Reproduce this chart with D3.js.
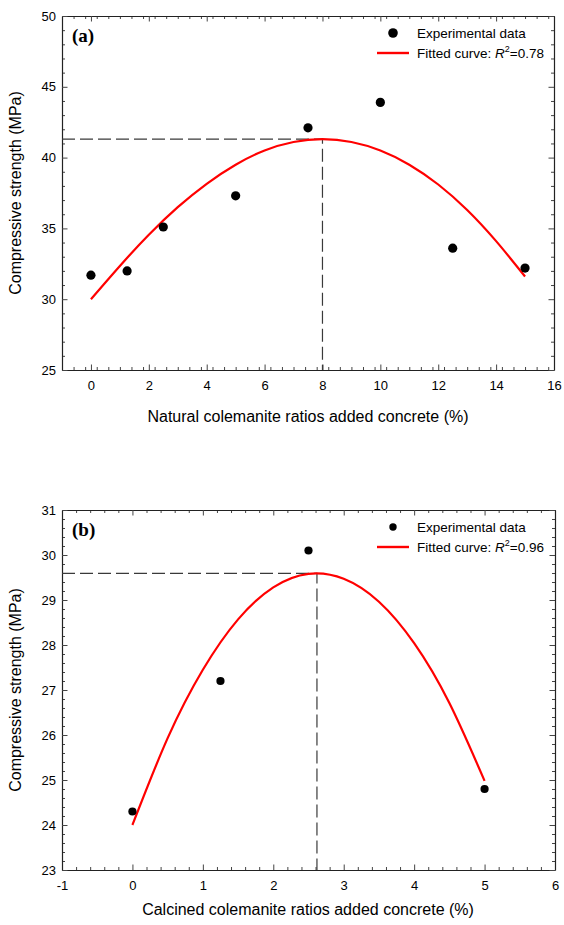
<!DOCTYPE html>
<html>
<head>
<meta charset="utf-8">
<script src="https://cdn.jsdelivr.net/npm/d3@7"></script>
<style>
  body { margin: 0; background: #fff; }
  svg { display: block; }
</style>
</head>
<body>
<svg id="chart" width="564" height="925"></svg>
<script>
// panel (a): natural colemanite
const ratiosA = [0, 1.25, 2.5, 5, 7.5, 10, 12.5, 15];
const strengthA = [31.7, 32.0, 35.1, 37.3, 42.1, 43.9, 33.6, 32.2];
const fitXA = [0, 1, 2, 3, 4, 5, 6, 7, 8, 9, 10, 11, 12, 13, 14, 15];
const fitYA = [30.0, 32.35, 34.55, 36.5, 38.15, 39.5, 40.5, 41.1, 41.3, 41.1, 40.5, 39.5, 38.1, 36.3, 34.1, 31.6];
const optA = [8, 41.3];
const xTicksA = [0, 2, 4, 6, 8, 10, 12, 14, 16];
const yTicksA = [25, 30, 35, 40, 45, 50];

// panel (b): calcined colemanite
const ratiosB = [0, 1.25, 2.5, 5];
const strengthB = [24.3, 27.2, 30.1, 24.8];
const fitXB = [0, 0.5, 1, 1.5, 2, 2.5, 3, 3.5, 4, 4.5, 5];
const fitYB = [24.0, 25.93, 27.45, 28.57, 29.28, 29.58, 29.47, 28.96, 28.04, 26.71, 24.98];
const optB = [2.62, 29.59];
const xTicksB = [-1, 0, 1, 2, 3, 4, 5, 6];
const yTicksB = [23, 24, 25, 26, 27, 28, 29, 30, 31];

const legendLabels = ["Experimental data", "Fitted curve: "];
const yTitle = "Compressive strength (MPa)";

const sans = "Arial, 'Liberation Sans', sans-serif";
const svg = d3.select("#chart");

function drawPanel(p) {
  const g = svg.append("g").style("font-family", sans);
  const x = d3.scaleLinear().domain(p.xDomain).range([p.left, p.right]);
  const y = d3.scaleLinear().domain(p.yDomain).range([p.bottom, p.top]);

  const notMajor = ticks => v => !ticks.some(t => Math.abs(t - v) < 1e-6);
  const minorX = d3.range(p.xDomain[0], p.xDomain[1] + 1e-9, p.xMinor).filter(notMajor(p.xTicks));
  const minorY = d3.range(p.yDomain[0], p.yDomain[1] + 1e-9, p.yMinor).filter(notMajor(p.yTicks));

  const axes = [
    [d3.axisBottom(x), `translate(0,${p.bottom})`, "x", true],
    [d3.axisTop(x), `translate(0,${p.top})`, "x", false],
    [d3.axisLeft(y), `translate(${p.left},0)`, "y", true],
    [d3.axisRight(y), `translate(${p.right},0)`, "y", false]
  ];
  axes.forEach(([ax, tr, dim, labelled]) => {
    const majors = dim === "x" ? p.xTicks : p.yTicks;
    const minors = dim === "x" ? minorX : minorY;
    // minor ticks, pointing inward
    g.append("g").attr("transform", tr)
      .call(ax.tickValues(minors).tickSize(-3).tickSizeOuter(0).tickFormat(""))
      .call(s => s.select(".domain").remove())
      .selectAll("line").attr("stroke", "#444");
    // major ticks + labels
    const sel = g.append("g").attr("transform", tr)
      .call(ax.tickValues(majors).tickSize(-5.5).tickSizeOuter(0)
        .tickPadding(dim === "x" ? 11 : 6)
        .tickFormat(labelled ? (d => String(d)) : ""));
    sel.select(".domain").attr("stroke", "#222").attr("stroke-width", 1.2);
    sel.selectAll(".tick line").attr("stroke", "#444");
    sel.selectAll("text").attr("font-size", 13).attr("fill", "#000").style("font-family", sans);
  });

  // dashed guide lines to the optimum
  const guide = d3.path();
  guide.moveTo(x(p.xDomain[0]), y(p.opt[1]));
  guide.lineTo(x(p.opt[0]), y(p.opt[1]));
  guide.lineTo(x(p.opt[0]), y(p.yDomain[0]));
  g.append("path").attr("d", guide.toString())
    .attr("fill", "none").attr("stroke", "#3a3a3a").attr("stroke-width", 1.2)
    .attr("stroke-dasharray", "13,5");

  // fitted curve
  const line = d3.line().x(d => x(d[0])).y(d => y(d[1])).curve(d3.curveNatural);
  g.append("path").datum(d3.zip(p.fitX, p.fitY))
    .attr("d", line).attr("fill", "none").attr("stroke", "#ff0000").attr("stroke-width", 2.2);

  // experimental points
  g.selectAll(".pt").data(d3.zip(p.xs, p.ys)).enter().append("circle")
    .attr("class", "pt")
    .attr("cx", d => x(d[0])).attr("cy", d => y(d[1])).attr("r", p.r).attr("fill", "#000");

  // panel letter
  g.append("text").attr("x", p.left + 10).attr("y", p.top + 26)
    .style("font-family", "'Liberation Serif', 'Times New Roman', serif")
    .attr("font-weight", "bold").attr("font-size", 19).text(p.letter);

  // legend
  g.append("circle").attr("cx", 393).attr("cy", p.top + 17).attr("r", p.legendR).attr("fill", "#000");
  g.append("text").attr("x", 417).attr("y", p.top + 22).attr("font-size", 13.5).text(legendLabels[0]);
  g.append("line").attr("x1", 377).attr("x2", 409).attr("y1", p.top + 37).attr("y2", p.top + 37)
    .attr("stroke", "#ff0000").attr("stroke-width", 2.4);
  const t = g.append("text").attr("x", 417).attr("y", p.top + 42).attr("font-size", 13.5);
  t.append("tspan").text(legendLabels[1]);
  t.append("tspan").attr("font-style", "italic").text("R");
  t.append("tspan").attr("font-size", 9).attr("dy", -6).text("2");
  t.append("tspan").attr("dy", 6).text("=" + p.r2);

  // axis titles
  g.append("text").attr("x", 308).attr("y", p.xTitleY).attr("text-anchor", "middle")
    .attr("font-size", 16).text(p.xTitle);
  g.append("text").attr("transform", `translate(21,${(p.top + p.bottom) / 2}) rotate(-90)`)
    .attr("text-anchor", "middle").attr("font-size", 16).text(yTitle);
}

drawPanel({
  left: 62, right: 554, top: 16, bottom: 370,
  xDomain: [-1, 16], yDomain: [25, 50], xTicks: xTicksA, yTicks: yTicksA,
  xMinor: 0.4, yMinor: 1,
  xs: ratiosA, ys: strengthA, fitX: fitXA, fitY: fitYA, opt: optA,
  r: 4.6, legendR: 4.8, letter: "(a)", r2: "0.78",
  xTitle: "Natural colemanite ratios added concrete (%)", xTitleY: 422
});

drawPanel({
  left: 62, right: 555, top: 510, bottom: 870,
  xDomain: [-1, 6], yDomain: [23, 31], xTicks: xTicksB, yTicks: yTicksB,
  xMinor: 0.2, yMinor: 0.2,
  xs: ratiosB, ys: strengthB, fitX: fitXB, fitY: fitYB, opt: optB,
  r: 4.1, legendR: 3.7, letter: "(b)", r2: "0.96",
  xTitle: "Calcined colemanite ratios added concrete (%)", xTitleY: 915
});
</script>
</body>
</html>
